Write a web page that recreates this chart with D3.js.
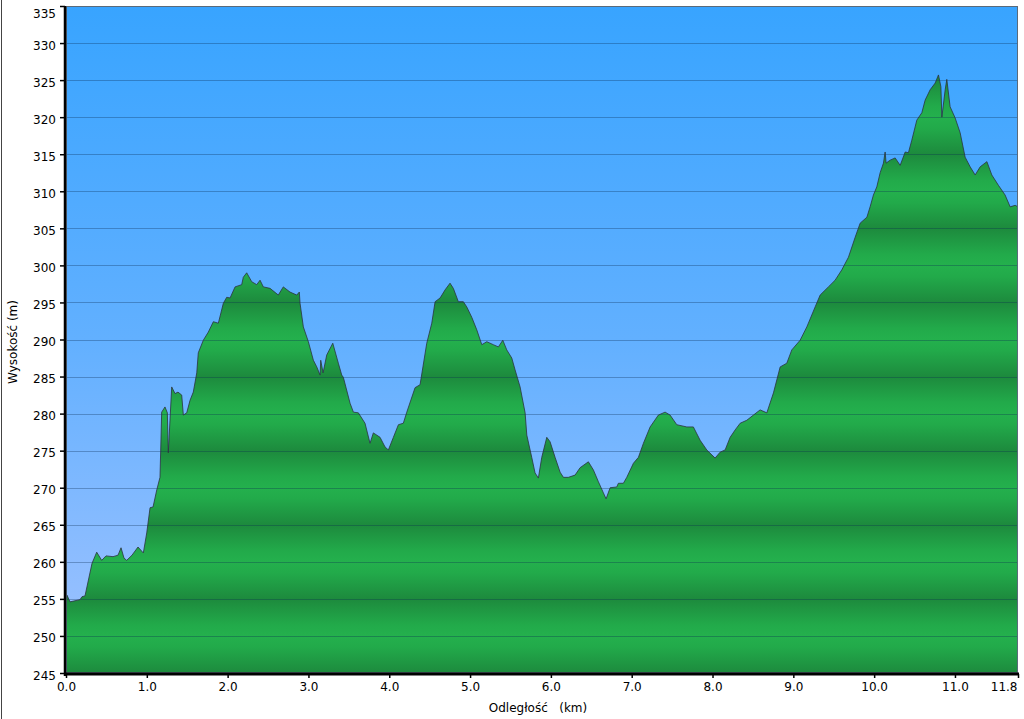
<!DOCTYPE html>
<html>
<head>
<meta charset="utf-8">
<script src="https://cdn.jsdelivr.net/npm/d3@7"></script>
<style>
  html, body { margin: 0; padding: 0; background: #fff; }
  svg { display: block; font-family: "DejaVu Sans", Verdana, sans-serif; }
</style>
</head>
<body>
<svg id="chart" width="1024" height="719"></svg>
<script>
// ---- data ----
const distKm = [0, 0.012, 0.05, 0.173, 0.198, 0.235, 0.322, 0.380, 0.442, 0.495, 0.582, 0.644, 0.681, 0.718, 0.751, 0.817, 0.891, 0.957, 0.999,
  1.040, 1.077, 1.123, 1.163, 1.184, 1.225, 1.254, 1.266, 1.308, 1.349, 1.386, 1.432, 1.452, 1.494, 1.535, 1.575, 1.618, 1.637, 1.699, 1.761, 1.823, 1.885, 1.947, 1.989,
  2.030, 2.092, 2.174, 2.194, 2.236, 2.298, 2.360, 2.401, 2.442, 2.525, 2.627, 2.689, 2.772, 2.855, 2.887, 2.896, 2.937, 2.999,
  3.061, 3.103, 3.144, 3.152, 3.181, 3.226, 3.301, 3.370, 3.412, 3.432, 3.515, 3.556, 3.618, 3.700, 3.762, 3.803, 3.886, 3.948, 3.989,
  4.051, 4.113, 4.174, 4.217, 4.319, 4.381, 4.464, 4.526, 4.567, 4.629, 4.691, 4.752, 4.793, 4.855, 4.917, 4.959,
  5.021, 5.083, 5.145, 5.207, 5.288, 5.350, 5.405, 5.454, 5.516, 5.557, 5.619, 5.681, 5.702, 5.763, 5.804, 5.845, 5.887, 5.949, 5.990,
  6.052, 6.114, 6.155, 6.216, 6.299, 6.361, 6.464, 6.526, 6.588, 6.650, 6.683, 6.733, 6.815, 6.835, 6.897, 6.939,
  7.021, 7.083, 7.145, 7.228, 7.330, 7.413, 7.475, 7.558, 7.682, 7.763, 7.847, 7.929,
  8.032, 8.094, 8.156, 8.218, 8.280, 8.342, 8.424, 8.506, 8.589, 8.672, 8.754, 8.837, 8.919, 8.981,
  9.084, 9.167, 9.270, 9.332, 9.434, 9.517, 9.600, 9.682, 9.765, 9.827, 9.910, 9.950, 9.991,
  10.033, 10.074, 10.115, 10.136, 10.148, 10.198, 10.260, 10.322, 10.384, 10.424, 10.466, 10.528, 10.590, 10.631, 10.693, 10.755, 10.796, 10.826, 10.838, 10.879, 10.899, 10.940,
  11.002, 11.064, 11.126, 11.188, 11.250, 11.312, 11.395, 11.456, 11.538, 11.620, 11.683, 11.745, 11.78];
const elevM = [253.9, 255.5, 254.6, 254.9, 255.3, 255.4, 259.8, 261.3, 260.2, 260.8, 260.7, 260.9, 261.9, 260.5, 260.2, 260.9, 262.0, 261.2, 263.9,
  267.3, 267.4, 269.7, 271.4, 280.2, 280.9, 280.1, 274.7, 283.6, 282.7, 282.9, 282.5, 279.8, 280.1, 281.8, 282.9, 285.5, 288.2, 289.9, 291.0, 292.4, 292.2, 294.9, 295.7,
  295.6, 297.1, 297.4, 298.4, 299.0, 297.8, 297.4, 298.0, 297.1, 296.9, 296.0, 297.1, 296.4, 296.0, 296.4, 294.9, 291.7, 289.7,
  287.2, 286.3, 285.2, 287.2, 285.5, 287.9, 289.5, 286.8, 285.2, 284.9, 281.4, 280.2, 280.1, 278.7, 276.0, 277.4, 276.8, 275.5, 275.1,
  276.8, 278.5, 278.7, 280.2, 283.5, 283.9, 289.5, 292.2, 295.1, 295.6, 296.7, 297.6, 296.9, 295.1, 295.1, 294.4,
  293.0, 291.3, 289.3, 289.7, 289.3, 289.0, 289.9, 288.6, 287.5, 285.9, 283.6, 280.1, 277.1, 274.1, 272.0, 271.3, 274.1, 276.8, 276.2,
  274.1, 272.1, 271.4, 271.4, 271.7, 272.7, 273.5, 272.4, 270.8, 269.3, 268.5, 270.0, 270.1, 270.6, 270.6, 271.4,
  273.3, 274.1, 276.0, 278.2, 279.8, 280.2, 279.8, 278.5, 278.2, 278.2, 276.4, 275.1,
  274.0, 274.8, 275.1, 276.8, 277.8, 278.7, 279.1, 279.8, 280.5, 280.1, 282.8, 286.3, 286.8, 288.6,
  289.9, 291.7, 294.4, 296.0, 297.1, 298.0, 299.4, 301.1, 303.8, 305.7, 306.5, 307.9, 309.5,
  310.6, 312.5, 313.8, 315.3, 313.8, 314.2, 314.5, 313.5, 315.3, 315.2, 316.9, 319.6, 320.6, 322.3, 323.7, 324.6, 325.7, 324.1, 320.0, 323.7, 325.1, 321.4,
  319.9, 317.9, 314.6, 313.3, 312.2, 313.3, 314.0, 312.2, 310.8, 309.5, 307.9, 308.1, 307.9];

const yTickValues = [245, 250, 255, 260, 265, 270, 275, 280, 285, 290, 295, 300, 305, 310, 315, 320, 325, 330, 335];
const xTickValues = [0, 1, 2, 3, 4, 5, 6, 7, 8, 9, 10, 11, 11.78];
const xTickLabels = ["0.0", "1.0", "2.0", "3.0", "4.0", "5.0", "6.0", "7.0", "8.0", "9.0", "10.0", "11.0", "11.8"];
const xTitle = "Odległość   (km)";
const yTitle = "Wysokość (m)";

// ---- layout ----
const L = 66, R = 1018, T = 6, B = 673;
const svg = d3.select("#chart");
const x = d3.scaleLinear().domain([0, 11.78]).range([L, R]);
const y = d3.scaleLinear().domain([245, 335]).range([B, T]);

const defs = svg.append("defs");
const sky = defs.append("linearGradient").attr("id", "sky")
  .attr("x1", 0).attr("y1", 0).attr("x2", 0).attr("y2", 1);
sky.append("stop").attr("offset", 0).attr("stop-color", "#38a4ff");
sky.append("stop").attr("offset", 0.5).attr("stop-color", "#62b0ff");
sky.append("stop").attr("offset", 1).attr("stop-color", "#a2c3ff");

const band = defs.append("linearGradient").attr("id", "band")
  .attr("gradientUnits", "userSpaceOnUse").attr("spreadMethod", "repeat")
  .attr("x1", 0).attr("x2", 0).attr("y1", y(260)).attr("y2", y(250));
band.append("stop").attr("offset", 0).attr("stop-color", "#24b04d");
band.append("stop").attr("offset", 0.15).attr("stop-color", "#22aa4a");
band.append("stop").attr("offset", 0.5).attr("stop-color", "#1d8a3d");
band.append("stop").attr("offset", 0.85).attr("stop-color", "#22aa4a");
band.append("stop").attr("offset", 1).attr("stop-color", "#24b04d");

defs.append("clipPath").attr("id", "plotclip").append("rect")
  .attr("x", L).attr("y", T).attr("width", R - L).attr("height", B - T);

// outer frame (left edge)
svg.append("line").attr("x1", 1.5).attr("x2", 1.5).attr("y1", 0).attr("y2", 719)
  .attr("stroke", "#444").attr("stroke-width", 1);

// sky background
svg.append("rect").attr("x", L).attr("y", T).attr("width", R - L).attr("height", B - T)
  .attr("fill", "url(#sky)");

const pts = distKm.map((d, i) => [d, elevM[i]]);
const g = svg.append("g").attr("clip-path", "url(#plotclip)");

const area = d3.area().x(d => x(d[0])).y0(y(245)).y1(d => y(d[1]));
g.append("path").datum(pts).attr("d", area).attr("fill", "url(#band)");

// grid lines
g.selectAll("line.grid").data(yTickValues.filter(v => v > 245 && v < 335)).join("line")
  .attr("class", "grid")
  .attr("x1", L).attr("x2", R).attr("y1", d => Math.round(y(d)) + 0.5).attr("y2", d => Math.round(y(d)) + 0.5)
  .attr("stroke", "#0a2a50").attr("stroke-opacity", 0.32).attr("stroke-width", 1);

// profile outline
const line = d3.line().x(d => x(d[0])).y(d => y(d[1]));
g.append("path").datum(pts).attr("d", line).attr("fill", "none")
  .attr("stroke", "#2a3340").attr("stroke-opacity", 0.8).attr("stroke-width", 1);

// plot border
svg.append("rect").attr("x", L + 0.5).attr("y", T + 0.5).attr("width", R - L - 1).attr("height", B - T - 1)
  .attr("fill", "none").attr("stroke", "#5a6a7a").attr("stroke-width", 1);

// axes
const yAxis = d3.axisLeft(y).tickValues(yTickValues).tickSize(5).tickPadding(4).tickFormat(d3.format("d"));
const ya = svg.append("g").attr("transform", `translate(${L - 1},0)`).call(yAxis);
ya.select(".domain").attr("stroke", "#000").attr("stroke-width", 2.5).attr("d", `M0,${T}V${B + 3}`);
ya.selectAll(".tick line").attr("stroke", "#000").attr("stroke-width", 1.5);
ya.selectAll(".tick text").attr("fill", "#000").attr("font-size", 12)
  .attr("font-family", "DejaVu Sans, Verdana, sans-serif")
  .attr("dy", d => d === 335 ? "0.95em" : "0.5em");

const xAxis = d3.axisBottom(x).tickValues(xTickValues).tickSize(4).tickPadding(4)
  .tickFormat((d, i) => xTickLabels[i]);
const xa = svg.append("g").attr("transform", `translate(0,${B + 1})`).call(xAxis);
xa.select(".domain").attr("stroke", "#000").attr("stroke-width", 3).attr("d", `M${L - 2},0H${R + 1}`);
xa.selectAll(".tick line").attr("stroke", "#000").attr("stroke-width", 1.5);
xa.selectAll(".tick text").attr("fill", "#000").attr("font-size", 12)
  .attr("font-family", "DejaVu Sans, Verdana, sans-serif");
xa.selectAll(".tick").filter(d => d === 11.78).select("text").attr("text-anchor", "end").attr("dx", "-1");

// titles
svg.append("text").attr("x", 538).attr("y", 712).attr("text-anchor", "middle")
  .attr("font-size", 12).attr("fill", "#000").style("white-space", "pre").text(xTitle);
svg.append("text").attr("transform", "translate(17,342) rotate(-90)").attr("text-anchor", "middle")
  .attr("font-size", 12).attr("fill", "#000").text(yTitle);
</script>
</body>
</html>
